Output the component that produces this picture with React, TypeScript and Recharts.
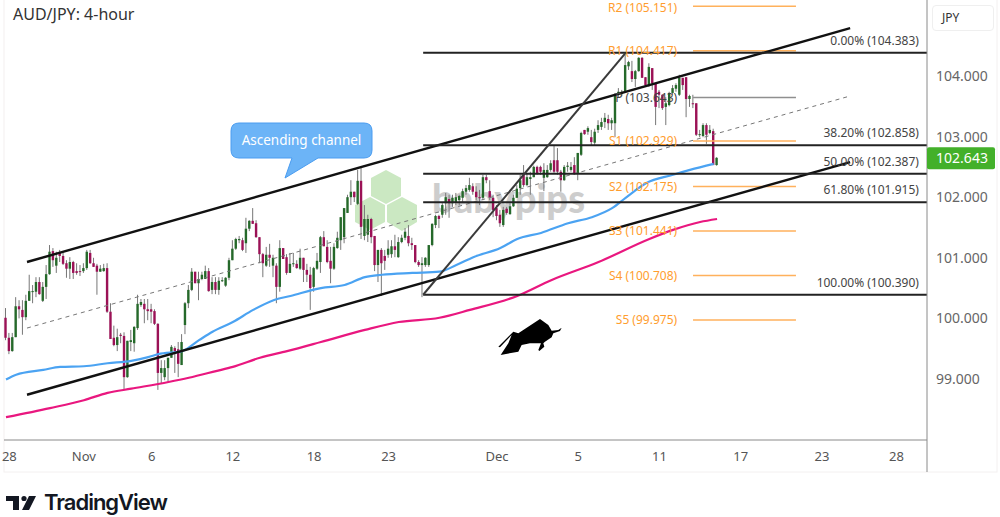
import { ComposedChart, Bar, Line, XAxis, YAxis, ReferenceLine, ReferenceDot } from 'recharts';

// 4-hour candles
const opens = [
  100.01,99.68,99.46,99.69,100.20,100.14,100.02,100.29,100.44,100.44,
  100.60,100.29,100.52,100.73,101.11,100.87,101.08,101.03,100.91,100.82,
  100.93,100.78,100.78,100.78,100.83,101.08,100.91,100.87,100.77,100.78,
  100.83,100.11,99.68,99.56,99.73,99.71,99.03,99.61,99.59,99.84,
  100.22,100.24,100.15,100.15,100.12,99.91,99.10,99.03,99.18,99.35,
  99.51,99.49,99.23,99.89,100.25,100.47,100.77,100.58,100.65,100.65,
  100.78,100.47,100.60,100.47,100.62,100.54,100.67,100.96,101.15,101.29,
  101.29,101.24,101.48,101.61,101.57,101.34,101.06,100.87,101.05,100.87,
  100.87,100.52,101.16,101.01,100.75,100.90,100.90,100.82,101.00,100.80,
  100.72,100.52,100.82,100.93,101.34,101.18,100.95,100.82,101.16,101.29,
  101.34,101.74,102.00,102.09,101.89,102.27,101.36,101.38,101.64,101.36,
  100.88,101.13,101.03,101.05,101.06,101.19,101.01,101.26,101.33,101.36,
  101.24,101.21,100.93,100.88,100.88,100.88,101.21,101.54,101.69,101.71,
  101.90,101.97,101.90,101.92,101.95,101.99,102.09,102.12,102.18,102.09,
  102.00,101.99,102.33,102.10,101.99,101.82,101.71,101.54,101.81,101.72,
  101.85,101.99,102.15,102.40,102.20,102.30,102.33,102.50,102.50,102.32,
  102.33,102.45,102.61,102.61,102.42,102.28,102.50,102.45,102.53,102.40,
  102.70,103.11,103.08,102.99,102.90,103.11,103.16,103.24,103.29,103.22,
  103.22,103.69,103.70,103.74,104.16,104.08,103.95,104.08,104.30,103.98,
  103.85,104.13,103.87,103.74,103.69,103.49,103.52,103.72,103.79,103.69,
  103.97,103.98,103.62,103.55,103.55,103.03,103.01,103.19,103.06,103.09,
  102.53,
];
const highs = [
  100.17,99.76,99.76,100.35,100.30,100.30,100.39,100.72,100.55,100.68,
  100.68,100.60,100.88,101.21,101.16,101.10,101.13,101.08,100.96,101.01,
  100.95,100.91,100.88,100.91,101.13,101.13,101.00,100.90,100.88,100.90,
  100.91,100.25,99.88,99.83,99.76,99.77,99.63,99.81,99.87,100.39,
  100.32,100.32,100.32,100.24,100.15,99.92,99.31,99.31,99.35,99.56,
  99.54,99.61,99.74,100.27,100.55,100.83,100.77,100.77,100.77,100.87,
  100.83,100.68,100.68,100.68,100.68,100.68,101.00,101.29,101.33,101.36,
  101.33,101.66,101.62,101.82,101.62,101.34,101.08,101.18,101.23,101.05,
  100.91,101.29,101.16,101.06,101.08,101.08,100.96,101.15,101.00,100.90,
  100.85,100.85,101.08,101.36,101.44,101.29,101.18,101.24,101.43,101.67,
  101.82,102.04,102.28,102.09,102.45,102.50,101.87,101.71,101.66,101.36,
  101.13,101.16,101.13,101.29,101.29,101.38,101.34,101.38,101.49,101.54,
  101.33,101.21,100.96,101.01,101.01,101.21,101.57,101.71,101.71,101.90,
  102.07,102.04,102.04,102.07,102.04,102.14,102.20,102.32,102.23,102.18,
  102.12,102.37,102.37,102.28,102.04,101.87,101.79,101.84,101.84,101.90,
  102.04,102.20,102.37,102.53,102.40,102.42,102.52,102.52,102.52,102.56,
  102.53,102.61,102.86,102.81,102.45,102.53,102.58,102.58,102.66,102.73,
  103.08,103.11,103.17,103.11,103.13,103.27,103.31,103.39,103.36,103.31,
  103.72,103.80,103.77,104.35,104.25,104.25,104.10,104.31,104.31,103.98,
  104.21,104.13,103.88,103.77,103.70,103.65,103.74,103.85,103.88,104.02,
  103.97,103.98,103.69,103.69,103.55,103.11,103.22,103.22,103.19,103.13,
  102.66,
];
const lows = [
  99.64,99.41,99.45,99.69,100.00,99.73,99.97,100.29,100.25,100.35,
  100.39,100.27,100.32,100.72,100.85,100.75,100.93,100.88,100.67,100.65,
  100.65,100.72,100.70,100.75,100.80,100.90,100.85,100.39,100.77,100.77,
  100.09,99.66,99.54,99.46,99.59,98.82,99.02,99.46,99.45,99.81,
  100.19,99.92,99.97,99.92,99.89,98.82,98.93,98.98,98.95,99.35,
  99.10,99.03,99.23,99.74,100.17,100.45,100.58,100.30,100.63,100.65,
  100.44,100.40,100.40,100.39,100.60,100.52,100.63,100.96,101.13,101.24,
  101.11,101.08,101.44,101.56,101.33,100.91,100.68,100.85,100.85,100.68,
  100.25,100.44,100.98,100.72,100.75,100.85,100.82,100.80,100.60,100.60,
  100.14,100.44,100.80,100.75,101.19,100.91,100.58,100.80,101.15,101.13,
  101.24,101.74,101.87,101.92,101.87,101.31,101.29,101.26,101.24,100.78,
  100.60,100.37,100.80,101.00,101.00,101.01,101.00,101.24,101.29,101.19,
  101.13,100.91,100.85,100.35,100.85,100.85,101.19,101.49,101.49,101.66,
  101.71,101.66,101.84,101.87,101.87,101.92,102.04,102.09,102.04,101.95,
  101.87,101.95,102.23,101.95,101.67,101.62,101.51,101.51,101.71,101.71,
  101.84,101.99,102.04,102.17,102.18,102.04,102.33,102.37,102.37,102.10,
  102.32,102.42,102.40,102.37,102.09,102.27,102.42,102.42,102.37,102.28,
  102.68,103.03,103.03,102.86,102.86,103.06,103.11,103.14,103.11,103.11,
  102.99,103.65,103.67,103.74,104.10,103.90,103.82,104.07,103.97,103.82,
  103.82,103.77,103.19,103.47,103.44,103.19,103.50,103.69,103.74,103.67,
  103.77,103.32,103.49,103.47,103.01,102.99,102.99,102.88,103.04,102.53,
  102.52,
];
const closes = [
  99.68,99.46,99.69,100.20,100.15,100.02,100.29,100.45,100.45,100.60,
  100.40,100.52,100.73,101.10,100.96,101.00,101.03,100.90,100.82,100.93,
  100.75,100.75,100.77,100.83,101.10,100.91,100.85,100.77,100.82,100.83,
  100.11,99.66,99.56,99.69,99.71,99.03,99.63,99.64,99.86,100.24,
  100.27,100.15,100.12,100.11,99.91,99.10,99.18,99.18,99.35,99.53,
  99.46,99.25,99.61,100.25,100.47,100.77,100.58,100.65,100.72,100.78,
  100.45,100.60,100.47,100.62,100.63,100.67,100.96,101.15,101.31,101.31,
  101.13,101.48,101.61,101.56,101.34,101.06,100.91,101.05,101.00,101.00,
  100.52,101.16,100.98,100.75,100.90,100.91,100.83,101.00,100.80,100.72,
  100.50,100.83,100.95,101.34,101.19,100.93,100.82,101.18,101.33,101.67,
  101.82,102.00,102.09,102.00,102.27,101.51,101.64,101.64,101.34,100.88,
  101.13,100.91,100.95,101.15,101.19,101.13,101.26,101.33,101.43,101.24,
  101.21,100.93,100.88,100.91,101.00,101.21,101.56,101.69,101.64,101.87,
  102.00,101.90,101.99,102.00,102.02,102.10,102.15,102.20,102.09,102.00,
  101.99,102.33,102.28,101.99,101.79,101.69,101.57,101.79,101.74,101.85,
  101.99,102.14,102.28,102.20,102.33,102.33,102.50,102.40,102.42,102.45,
  102.45,102.56,102.42,102.42,102.28,102.50,102.52,102.50,102.38,102.73,
  103.06,103.04,103.14,102.91,103.08,103.19,103.24,103.31,103.22,103.27,
  103.69,103.74,103.74,104.18,104.23,103.95,104.08,104.30,103.97,103.85,
  104.15,103.88,103.49,103.69,103.47,103.55,103.72,103.80,103.85,103.97,
  103.85,103.62,103.67,103.54,103.03,103.04,103.19,103.03,103.11,102.53,
  102.65,
];

// moving averages, sampled by bar number
const blueBars = [0,3,11,16,23,30,37,42,45,52,57,61,67,73,79,84,93,100,106,111,120,128,133,138,146,151,158,166,173,179,183,189,197,202,209];
const blueVals = [98.99,99.07,99.15,99.20,99.21,99.26,99.30,99.36,99.41,99.46,99.64,99.78,99.94,100.14,100.30,100.37,100.50,100.55,100.68,100.72,100.75,100.77,100.88,101.01,101.16,101.31,101.41,101.57,101.67,101.82,101.99,102.23,102.37,102.45,102.55];
const pinkBars = [0,13,23,30,37,48,54,62,67,75,83,93,106,116,128,137,151,161,175,190,197,205,210];
const pinkVals = [98.37,98.52,98.65,98.77,98.84,98.95,99.02,99.13,99.20,99.35,99.46,99.61,99.81,99.94,100.01,100.14,100.37,100.63,100.93,101.31,101.46,101.59,101.64];

// drawn tools
const channelStart = 6.2;
const channelEnd = 249.3;
const channelUpper = [100.93, 104.79];
const channelMiddle = [99.84, 103.67];
const channelLower = [98.74, 102.58];

const fibLevels = [104.383, 102.858, 102.387, 101.915, 100.39];
const fibNames = ['0.00%', '38.20%', '50.00%', '61.80%', '100.00%'];
const pivotNames = ['R2', 'R1', 'P', 'S1', 'S2', 'S3', 'S4', 'S5'];
const pivotLevels = [105.151, 104.417, 103.643, 102.929, 102.175, 101.441, 100.708, 99.975];
const lastPrice = 102.643;

const priceTicks = [99, 100, 101, 102, 103, 104];
const timeTicks = [1, 23, 43, 67, 91, 113, 145, 169, 193, 217, 241, 263];
const timeLabels = ['28', 'Nov', '6', '12', '18', '23', 'Dec', '5', '11', '17', '23', '28'];

const candles = opens.map((open, i) => ({ i, open, high: highs[i], low: lows[i], close: closes[i] }));
const blue = blueBars.map((i, k) => ({ i, v: blueVals[k] }));
const pink = pinkBars.map((i, k) => ({ i, v: pinkVals[k] }));

const FONT = '"Noto Sans", sans-serif';

function Candle(props: any) {
  const { x, y, width, height, payload } = props;
  const perUnit = height / (payload.high - payload.low);
  const top = y + (payload.high - Math.max(payload.open, payload.close)) * perUnit;
  const h = Math.max(Math.abs(payload.open - payload.close) * perUnit, 1);
  const up = payload.close >= payload.open;
  return (
    <g>
      <line x1={x + width / 2} x2={x + width / 2} y1={y} y2={y + height} stroke="#777" strokeWidth={1} />
      <rect x={x} y={top} width={width} height={h} fill={up ? '#25692a' : '#9b1156'} />
    </g>
  );
}

function PriceTag(props: any) {
  const { cx, cy } = props;
  return (
    <g>
      <rect x={cx} y={cy - 11} width={68} height={22} rx={2} fill="#43b02a" />
      <text x={cx + 35} y={cy + 5} textAnchor="middle" fontSize={14} fill="#fff" fontFamily={FONT}>{lastPrice.toFixed(3)}</text>
    </g>
  );
}

export default function App() {
  return (
    <div style={{ position: 'fixed', left: 0, top: 0, width: 1000, height: 517, background: '#fff', fontFamily: FONT, overflow: 'hidden' }}>
      {/* watermark sits under the candles */}
      <svg width={1000} height={517} style={{ position: 'absolute', left: 0, top: 0 }}>
        <rect x={4} y={-2} width={993} height={474} fill="none" stroke="#f3f0f0" />
        <line x1={927} x2={927} y1={440} y2={472} stroke="#8a8a8a" />
        <polygon points="386,170 401,178 401,196 386,204 371,196 371,178" fill="#cbe8c2" />
        <polygon points="370,197 385,205 385,222 370,230 355,222 355,205" fill="#cbe8c2" />
        <polygon points="402,197 417,205 417,222 402,231 387,222 387,205" fill="#cbe8c2" />
        <text x={432} y={213} fontSize={40} fontWeight={900} fill="#cdcdcd" fontFamily="Lato, sans-serif" textLength={153} lengthAdjust="spacingAndGlyphs">babypips</text>
      </svg>

      <div style={{ position: 'absolute', left: 0, top: 0 }}>
        <ComposedChart width={1000} height={517} data={candles} margin={{ top: 0, right: 0, bottom: 0, left: 4 }}>
          <XAxis
            dataKey="i"
            type="number"
            domain={[-0.59, 272]}
            allowDataOverflow
            ticks={timeTicks}
            tickFormatter={(v: number) => timeLabels[timeTicks.indexOf(v)]}
            height={77}
            interval={0}
            tickLine={false}
            tickMargin={6}
            axisLine={{ stroke: '#8a8a8a' }}
            tick={{ fontSize: 13, fill: '#555', fontFamily: FONT }}
          />
          <YAxis
            orientation="right"
            type="number"
            domain={[97.993, 105.254]}
            allowDataOverflow
            ticks={priceTicks}
            tickFormatter={(v: number) => v.toFixed(3)}
            width={73}
            interval={0}
            tickLine={false}
            tickMargin={3}
            axisLine={{ stroke: '#8a8a8a' }}
            tick={{ fontSize: 14, fill: '#666', fontFamily: FONT }}
          />

          {pivotLevels.map((p, k) => (
            <ReferenceLine key={pivotNames[k]} segment={[{ x: 202.9, y: p }, { x: 233.3, y: p }]} stroke={pivotNames[k] === 'P' ? '#8f8f8f' : '#ffb15c'} strokeWidth={1.5} />
          ))}
          {pivotLevels.map((p, k) => (
            <ReferenceDot key={pivotNames[k]} x={198.2} y={k === 0 ? p - 0.03 : p} r={0} fill="none" stroke="none"
              label={{ value: `${pivotNames[k]} (${p.toFixed(3)})`, position: 'left', offset: 0, fontSize: 12, fill: pivotNames[k] === 'P' ? '#444' : '#ff9d2e', fontFamily: FONT }} />
          ))}

          <Bar dataKey={(d: any) => [d.low, d.high]} barSize={2.4} shape={Candle} isAnimationActive={false} />
          <Line data={blue} dataKey="v" type="monotone" dot={false} stroke="#4ba3f2" strokeWidth={2.2} isAnimationActive={false} />
          <Line data={pink} dataKey="v" type="monotone" dot={false} stroke="#e9177f" strokeWidth={2.2} isAnimationActive={false} />

          <ReferenceLine segment={[{ x: channelStart, y: channelUpper[0] }, { x: channelEnd, y: channelUpper[1] }]} stroke="#111" strokeWidth={2.4} />
          <ReferenceLine segment={[{ x: channelStart, y: channelLower[0] }, { x: channelEnd, y: channelLower[1] }]} stroke="#111" strokeWidth={2.4} />
          <ReferenceLine segment={[{ x: channelStart, y: channelMiddle[0] }, { x: channelEnd, y: channelMiddle[1] }]} stroke="#777" strokeWidth={1} strokeDasharray="4 4" />

          {fibLevels.map((f) => (
            <ReferenceLine key={f} segment={[{ x: 123.2, y: f }, { x: 272, y: f }]} stroke="#222" strokeWidth={2} />
          ))}
          <ReferenceLine segment={[{ x: 123.2, y: fibLevels[4] }, { x: 183, y: fibLevels[0] }]} stroke="#3a3a3a" strokeWidth={2} />
          {fibLevels.map((f, k) => (
            <ReferenceDot key={f} x={269.6} y={f + 0.2} r={0} fill="none" stroke="none"
              label={{ value: `${fibNames[k]} (${f.toFixed(3)})`, position: 'left', offset: 0, fontSize: 12, fill: '#444', fontFamily: FONT }} />
          ))}

          <ReferenceDot x={272} y={lastPrice} r={1} shape={PriceTag} ifOverflow="visible" />
        </ComposedChart>
      </div>

      {/* callout, bull and logo on top */}
      <svg width={1000} height={517} style={{ position: 'absolute', left: 0, top: 0, pointerEvents: 'none' }}>
        <path d="M239 123 H364 Q372 123 372 131 V150 Q372 158 364 158 H318 L285 178 L292 158 H239 Q231 158 231 150 V131 Q231 123 239 123 Z" fill="#6cb4f7" stroke="#4a9cf0" />
        <text x={301.5} y={145} textAnchor="middle" fontSize={13.5} fill="#fff" fontFamily={FONT}>Ascending channel</text>
        <path transform="translate(480 300) scale(0.3333)" fill="#000" d="M55 140 L100 95 L105 97 L115 100 L180 57 L205 75 L215 92 L235 90 L245 83 L240 93 L220 100 L215 112 L195 125 L190 130 L193 140 L178 153 L175 150 L183 130 L150 130 L125 135 L115 155 L62 165 L85 130 L95 105 L60 142 Z" />
        <path fill="#131722" d="M6 496 H19 V510 H13 V501 H6 Z M29 496 H36 L29 510 H22 Z" />
        <circle cx={24} cy={498.5} r={2.6} fill="#131722" />
        <text x={44} y={510} fontSize={22} fontWeight={600} fill="#131722" fontFamily="Inter, sans-serif" textLength={124}>TradingView</text>
      </svg>

      <div style={{ position: 'absolute', left: 13, top: 4, fontSize: 16, color: '#333', lineHeight: '20px' }}>AUD/JPY: 4-hour</div>
      <div style={{ position: 'absolute', left: 932, top: 5, width: 60, height: 24, border: '1px solid #efefef', borderRadius: 4, background: '#fff', fontSize: 12, lineHeight: '24px', color: '#333', textIndent: 9 }}>JPY</div>
    </div>
  );
}
